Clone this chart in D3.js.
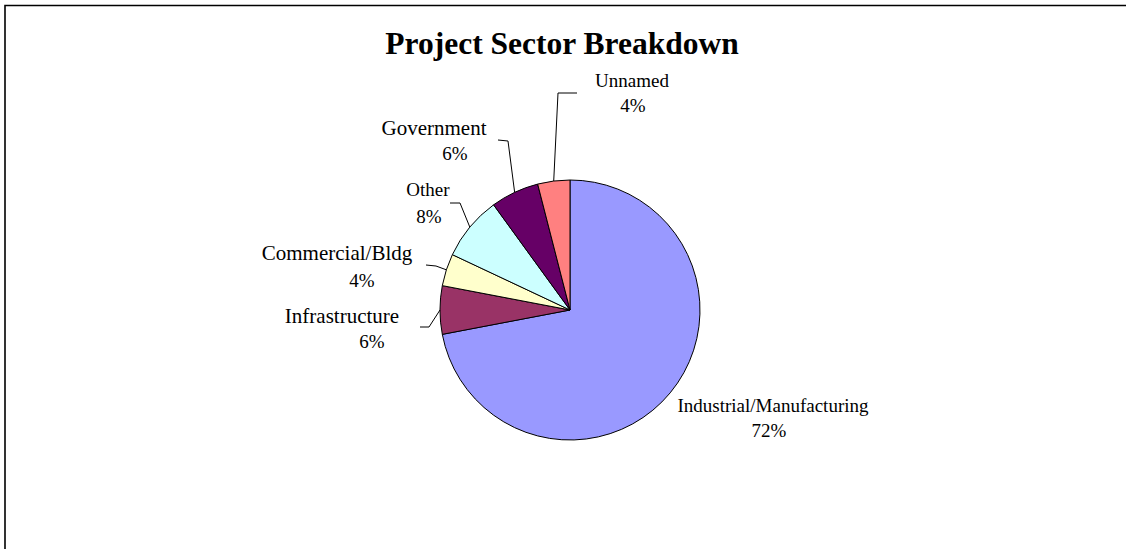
<!DOCTYPE html>
<html>
<head>
<meta charset="utf-8">
<script src="https://cdn.jsdelivr.net/npm/d3@7"></script>
<style>
  html, body { margin: 0; padding: 0; background: #fff; }
  svg { display: block; }
  text { font-family: "Liberation Serif", "Times New Roman", serif; fill: #000; }
</style>
</head>
<body>
<svg id="chart" width="1126" height="549"></svg>
<script>
// Project counts by sector, as percentage shares
const categories = ["Industrial/Manufacturing", "Infrastructure", "Commercial/Bldg", "Other", "Government", "Unnamed"];
const shares = [72, 6, 4, 8, 6, 4];
const colors = ["#9999FF", "#993366", "#FFFFCC", "#CCFFFF", "#660066", "#FF8080"];
const title = "Project Sector Breakdown";

const W = 1126, H = 549;
const cx = 570, cy = 310, radius = 130;

// Label placement: name/percent anchors, name size and the leader's label-side segment
const labelLayout = {
  "Industrial/Manufacturing": { nx: 773, ny: 412, px: 769, py: 437, fs: 19, leader: null },
  "Infrastructure":           { nx: 342, ny: 323, px: 372, py: 348, fs: 21, leader: [[420, 327], [429, 327]] },
  "Commercial/Bldg":          { nx: 337, ny: 260, px: 362, py: 287, fs: 21, leader: [[426, 265], [436, 266]] },
  "Other":                    { nx: 428, ny: 196, px: 429, py: 223, fs: 19, leader: [[450, 203], [460, 203]] },
  "Government":               { nx: 434, ny: 135, px: 455, py: 160, fs: 21, leader: [[498, 140], [508, 141]] },
  "Unnamed":                  { nx: 632, ny: 87,  px: 633, py: 112, fs: 19, leader: [[577, 93], [558, 93]] }
};

const svg = d3.select("#chart");

// Frame (top and left edges of the chart area)
svg.append("path")
  .attr("d", `M5,${H} V5.5 H${W}`)
  .attr("fill", "none")
  .attr("stroke", "#000")
  .attr("stroke-width", 1.6);

svg.append("text")
  .attr("x", 562)
  .attr("y", 54)
  .attr("text-anchor", "middle")
  .style("font-size", "31.5px")
  .style("font-weight", "bold")
  .text(title);

const data = categories.map((c, i) => ({ name: c, value: shares[i], color: colors[i] }));
const total = d3.sum(shares);

const pie = d3.pie().sort(null).value(d => d.value).startAngle(0).endAngle(2 * Math.PI);
const arcs = pie(data);
const arc = d3.arc().innerRadius(0).outerRadius(radius);

const g = svg.append("g").attr("transform", `translate(${cx},${cy})`);

g.selectAll("path.slice")
  .data(arcs)
  .join("path")
  .attr("class", "slice")
  .attr("d", arc)
  .attr("fill", d => d.data.color)
  .attr("stroke", "#000")
  .attr("stroke-width", 1)
  .attr("stroke-linejoin", "round");

// Leader lines run from the arc midpoint of each slice to its label
const line = d3.line();
arcs.forEach(a => {
  const lay = labelLayout[a.data.name];
  if (!lay || !lay.leader) return;
  const mid = (a.startAngle + a.endAngle) / 2;
  const edge = [cx + radius * Math.sin(mid), cy - radius * Math.cos(mid)];
  svg.append("path")
    .attr("d", line([lay.leader[0], lay.leader[1], edge]))
    .attr("fill", "none")
    .attr("stroke", "#000")
    .attr("stroke-width", 1);
});

// Category name and percentage labels
arcs.forEach(a => {
  const lay = labelLayout[a.data.name];
  const pct = Math.round(a.data.value / total * 100) + "%";
  svg.append("text")
    .attr("x", lay.nx).attr("y", lay.ny)
    .attr("text-anchor", "middle")
    .style("font-size", lay.fs + "px")
    .text(a.data.name);
  svg.append("text")
    .attr("x", lay.px).attr("y", lay.py)
    .attr("text-anchor", "middle")
    .style("font-size", "19px")
    .text(pct);
});
</script>
</body>
</html>
